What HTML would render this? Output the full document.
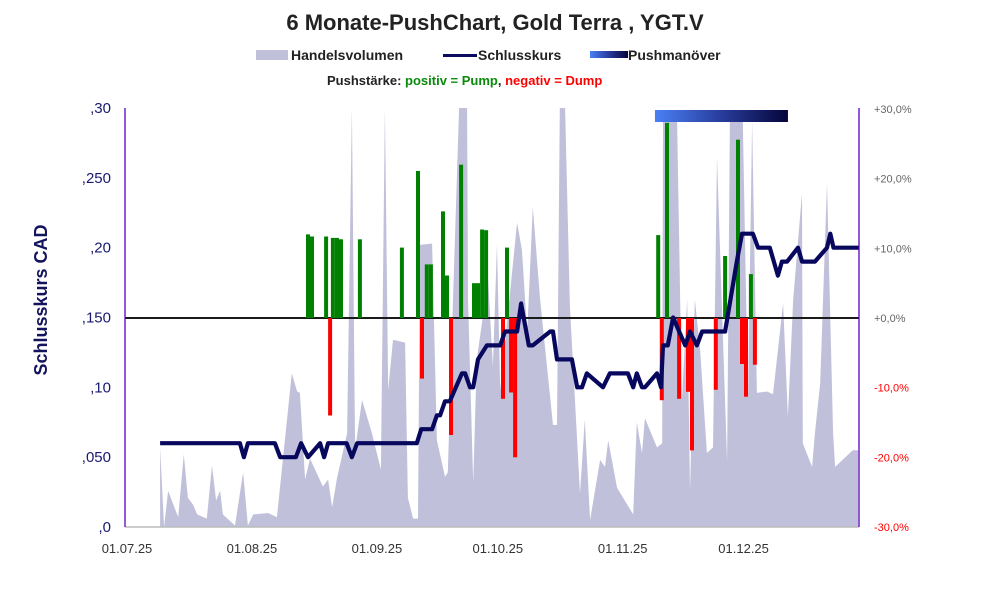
<!DOCTYPE html>
<html><head><meta charset="utf-8">
<style>
html,body{margin:0;padding:0;background:#fff;}
svg{display:block;font-family:"Liberation Sans",sans-serif;}
</style></head>
<body>
<svg id="chart" width="991" height="591" viewBox="0 0 991 591" xmlns="http://www.w3.org/2000/svg">
<defs>
<linearGradient id="pg" x1="0" x2="1" y1="0" y2="0"><stop offset="0" stop-color="#4a80f5"/><stop offset="0.5" stop-color="#283c9c"/><stop offset="1" stop-color="#05053a"/></linearGradient>
</defs>
<text x="495" y="30" text-anchor="middle" font-size="22" font-weight="bold" fill="#222">6 Monate-PushChart, Gold Terra , YGT.V</text>
<g>
<rect x="256" y="50" width="32" height="10" fill="#c0c0da"/>
<text x="291" y="60" font-size="14" font-weight="bold" fill="#222">Handelsvolumen</text>
<rect x="443" y="54" width="34" height="3" fill="#0a0a5e"/>
<text x="478" y="60" font-size="14" font-weight="bold" fill="#222">Schlusskurs</text>
<rect x="590" y="51" width="38" height="7" fill="url(#pg)"/>
<text x="628" y="60" font-size="14" font-weight="bold" fill="#222">Pushmanöver</text>
<text x="327" y="85" font-size="13" font-weight="bold" fill="#222">Pushstärke:  <tspan fill="#0a8a0a">positiv = Pump</tspan>,  <tspan fill="#ff0000">negativ = Dump</tspan></text>
</g>
<text transform="translate(47,300) rotate(-90)" text-anchor="middle" font-size="18" font-weight="bold" fill="#14145e">Schlusskurs CAD</text>
<g id="plot"></g>
</svg>
<script>
// ---- data ----
const xTickLabels = ["01.07.25","01.08.25","01.09.25","01.10.25","01.11.25","01.12.25"];
const xTickDays = [0,31,62,92,123,153];
const yTickValues = [0,0.05,0.10,0.15,0.20,0.25,0.30];
const yTickLabels = [",0",",050",",10",",150",",20",",250",",30"];
const pctTickValues = [-30,-20,-10,0,10,20,30];
const pctTickLabels = ["-30,0%","-20,0%","-10,0%","+0,0%","+10,0%","+20,0%","+30,0%"];
const volDays = [8.7,8.7,9.7,10.7,13.2,14.6,15.6,16.9,17.9,20.3,21.6,22.6,23.6,24.3,27.3,29.3,30.5,31.8,35.5,37.7,41.4,42.7,43.4,44.7,45.9,49.1,50.4,51.4,52.6,55.1,56.3,57.1,58.8,61.3,63.5,64.5,65.3,66.5,69.5,70.2,71.5,72.7,73.2,76.2,77.4,79.4,80.1,81.4,82.9,84.9,85.1,86.4,87.3,90.1,91.3,92.3,93.1,97.3,98.5,99.8,101.2,103,106.2,107.2,107.9,109.2,110.4,112.9,114.1,115.4,117.9,119.1,119.9,122.1,126.1,127,128.3,129,132,133.3,133.5,135.2,137,138.2,139.5,140.2,141.4,142.7,144.4,145.9,146.9,148.1,149.4,150.1,153.3,154.6,155.6,156.8,159.3,160.8,163.3,164.5,165.8,168,168.2,170.5,171.2,172.5,174.2,175.7,176.2,180.6,181.9,181.9];
const volValues = [0,57,0,26,7,52,21,16,9,6,44,19,26,9,1,39,1,9,10,7,110,97,96,34,49,29,34,14,35,67,300,55,91,67,41,300,98,134,132,21,6,6,202,203,62,36,39,163,300,300,163,32,120,177,115,203,98,218,198,139,229,163,73,73,300,300,158,24,77,5,48,43,62,28,9,75,53,78,57,60,291,291,291,91,163,26,163,127,53,57,265,160,47,291,291,91,291,96,97,95,160,79,163,239,60,43,67,103,246,67,43,55,55,0];
const priceDays = [8.7,28.5,29.5,30.5,37.2,38.5,42.4,43.7,45.4,48.4,49.4,50.4,55,56.3,57.6,72.4,73.5,76.2,77.4,78.2,79.4,80.6,83.6,84.4,85.6,86.4,87.6,89.8,93.1,94.3,97.3,98.3,100.2,101.2,105.5,106.2,107.2,110.9,112.2,113.4,114.6,118.6,120.3,124.8,126.1,127,128.3,129,132,133,133.5,134.7,136,139,140.2,141.9,143.2,148.9,151.8,153.1,155.8,157.1,160,162,163,164.3,167,168,171.2,174.2,175,175.8,182];
const priceValues = [0.06,0.06,0.05,0.06,0.06,0.05,0.05,0.06,0.05,0.06,0.05,0.06,0.06,0.05,0.06,0.06,0.07,0.07,0.08,0.08,0.09,0.09,0.11,0.11,0.10,0.10,0.12,0.13,0.13,0.14,0.14,0.16,0.13,0.13,0.14,0.14,0.12,0.12,0.10,0.10,0.11,0.10,0.11,0.11,0.10,0.11,0.10,0.10,0.11,0.10,0.13,0.13,0.15,0.13,0.14,0.13,0.14,0.14,0.19,0.21,0.21,0.20,0.20,0.18,0.19,0.19,0.20,0.19,0.19,0.20,0.21,0.20,0.20];
const pushDays = [45.4,46.4,49.9,50.9,51.6,52.6,53.6,58.3,68.7,72.7,73.7,74.9,75.9,78.9,79.9,80.9,83.4,86.6,87.6,88.6,89.6,93.8,94.8,95.8,96.8,132.3,133.2,134.5,137.5,139.7,140.7,146.6,148.9,152.1,153.1,154.1,155.3,156.3];
const pushValues = [12,11.7,11.7,-14,11.5,11.5,11.3,11.3,10.1,21.1,-8.7,7.7,7.7,15.3,6.1,-16.8,22,5,5,12.7,12.6,-11.6,10.1,-10.7,-20,11.9,-11.8,28,-11.6,-10.6,-19,-10.3,8.9,25.6,-6.6,-11.3,6.3,-6.7];
const pushManeuverStart = 131.5, pushManeuverEnd = 164.5;

// ---- axes ----
const X0=125, X1=859, Y0=527, Y1=108;
const PX_PER_DAY = 4.03;
const xs = d => X0 + d*PX_PER_DAY;
const yPrice = v => Y0 - v/0.30*(Y0-Y1);
const yPct = p => 318 - p/30*(Y0-318);
const NS="http://www.w3.org/2000/svg";
const plot=document.getElementById('plot');
function mk(tag, attrs, parent){const e=document.createElementNS(NS,tag);for(const k in attrs)e.setAttribute(k,attrs[k]);(parent||plot).appendChild(e);return e;}

// volume area
let pts = volDays.map((d,i)=>xs(d).toFixed(1)+','+Math.max(Y1,yPrice(volValues[i]*0.001)).toFixed(1));
pts.unshift(xs(volDays[0]).toFixed(1)+','+Y0);
const vol=mk('polygon',{points:pts.join(' '),fill:'#c0c0da'});



// axis lines
const xa=mk('line',{x1:X0,x2:X1,y1:Y0,y2:Y0,stroke:'#bbb','stroke-width':1.5});


const zl=mk('line',{x1:X0,x2:X1,y1:yPct(0),y2:yPct(0),stroke:'#1a1a1a','stroke-width':2});



// push bars
pushDays.forEach((d,i)=>{
  const v=pushValues[i];
  const y=Math.min(yPct(v),yPct(0)), h=Math.abs(yPct(v)-yPct(0));
  const r=mk('rect',{x:(xs(d)-2).toFixed(1),y:y.toFixed(1),width:4,height:h.toFixed(1),fill:v>=0?'#008000':'#ff0000'});
  
  
});

// price line
const pl=mk('polyline',{points:priceDays.map((d,i)=>xs(d).toFixed(1)+','+yPrice(priceValues[i]).toFixed(1)).join(' '),fill:'none',stroke:'#07075e','stroke-width':4.2,'stroke-linejoin':'round'});



// push maneuver bar
const pm=mk('rect',{x:xs(pushManeuverStart),y:110,width:xs(pushManeuverEnd)-xs(pushManeuverStart),height:12,fill:'url(#pg)'});



// vertical axes
const la=mk('line',{x1:X0,x2:X0,y1:Y1,y2:Y0,stroke:'#5a00c0','stroke-width':1.3});


const ra=mk('line',{x1:X1,x2:X1,y1:Y1,y2:Y0,stroke:'#5a00c0','stroke-width':1.3});



// y ticks
yTickValues.forEach((v,i)=>{
  const t=mk('text',{x:111,y:(yPrice(v)+5).toFixed(1),'text-anchor':'end','font-size':15,fill:'#1a1a70'});
  t.textContent=yTickLabels[i];
  
  
});
pctTickValues.forEach((v,i)=>{
  const t=mk('text',{x:874,y:(yPct(v)+4).toFixed(1),'font-size':11,fill:v<0?'#ff0000':'#666'});
  t.textContent=pctTickLabels[i];
  
  
});
xTickDays.forEach((d,i)=>{
  const t=mk('text',{x:(xs(d)+2).toFixed(1),y:553,'text-anchor':'middle','font-size':13,fill:'#333'});
  t.textContent=xTickLabels[i];
  
  
});
</script>
</body></html>
